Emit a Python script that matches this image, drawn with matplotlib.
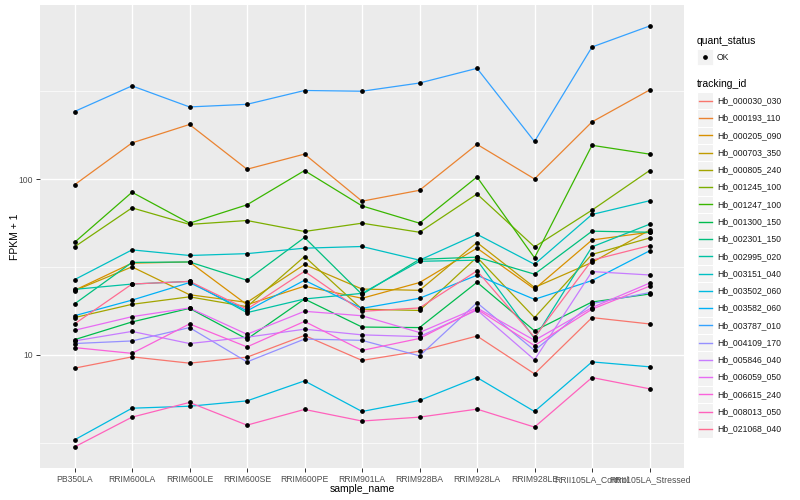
import numpy as np
import matplotlib.pyplot as plt
from matplotlib.lines import Line2D
from matplotlib.patches import Rectangle
from matplotlib.ticker import FixedLocator, NullFormatter

# =====================================================================
# Data (FPKM + 1)
# =====================================================================
sample_names = ["PB350LA", "RRIM600LA", "RRIM600LE", "RRIM600SE", "RRIM600PE",
                "RRIM901LA", "RRIM928BA", "RRIM928LA", "RRIM928LE",
                "RRII105LA_Control", "RRII105LA_Stressed"]

tracking_ids = ["Hb_000030_030", "Hb_000193_110", "Hb_000205_090", "Hb_000703_350",
                "Hb_000805_240", "Hb_001245_100", "Hb_001247_100", "Hb_001300_150",
                "Hb_002301_150", "Hb_002995_020", "Hb_003151_040", "Hb_003502_060",
                "Hb_003582_060", "Hb_003787_010", "Hb_004109_170", "Hb_005846_040",
                "Hb_006059_050", "Hb_006615_240", "Hb_008013_050", "Hb_021068_040"]

hb_000030_030 = [8.4, 9.74, 8.97, 9.7, 12.9, 9.3, 10.5, 12.8, 7.8, 16.3, 15.0]
hb_000193_110 = [92.9, 161, 205, 114, 139, 75, 86.5, 158, 100.4, 212, 322]
hb_000205_090 = [23.3, 33.3, 33.8, 19.3, 24.6, 21.0, 25.8, 40.5, 23.7, 45.1, 49.9]
hb_000703_350 = [23.2, 31.7, 22.0, 19.9, 32.7, 23.7, 23.3, 43.6, 24.2, 33.6, 51.3]
hb_000805_240 = [16.3, 19.4, 21.4, 18.8, 36.3, 18.2, 17.9, 36.0, 16.3, 37.3, 46.3]
hb_001245_100 = [41.2, 68.7, 55.3, 58.2, 50.4, 56.2, 49.9, 82.4, 41.2, 66.7, 112]
hb_001247_100 = [43.7, 84.3, 56.2, 71.5, 112, 70.5, 56.2, 103, 35.7, 156, 139]
hb_001300_150 = [12.2, 15.4, 18.4, 12.3, 20.8, 14.4, 14.3, 25.9, 13.7, 20.0, 22.2]
hb_002301_150 = [19.5, 33.6, 33.8, 26.6, 46.6, 22.1, 35.0, 36.0, 28.8, 50.6, 49.9]
hb_002995_020 = [23.6, 25.3, 26.2, 17.4, 20.8, 22.4, 34.1, 34.6, 12.4, 41.2, 55.4]
hb_003151_040 = [26.8, 39.6, 36.8, 37.7, 40.5, 41.4, 34.6, 48.6, 32.8, 63.0, 75.4]
hb_003502_060 = [3.28, 4.97, 5.1, 5.47, 7.11, 4.76, 5.5, 7.43, 4.76, 9.12, 8.55]
hb_003582_060 = [16.7, 20.5, 25.8, 17.8, 26.6, 18.4, 21.0, 28.4, 20.7, 26.5, 39.1]
hb_003787_010 = [243, 340, 258, 267, 320, 317, 353, 428, 164, 566, 745]
hb_004109_170 = [11.6, 12.0, 14.3, 9.12, 12.3, 12.1, 9.87, 19.8, 10.6, 19.6, 22.6]
hb_005846_040 = [12.0, 13.6, 11.6, 12.6, 14.0, 13.0, 12.7, 18.0, 9.37, 29.8, 28.5]
hb_006059_050 = [13.8, 16.5, 18.5, 13.1, 17.7, 16.7, 13.4, 18.5, 12.1, 18.6, 25.6]
hb_006615_240 = [11.0, 10.2, 15.0, 11.1, 15.5, 10.6, 12.4, 18.2, 11.3, 18.2, 24.6]
hb_008013_050 = [2.99, 4.42, 5.36, 3.98, 4.89, 4.2, 4.42, 4.91, 3.88, 7.43, 6.41]
hb_021068_040 = [15.0, 25.3, 26.2, 18.2, 29.9, 17.7, 18.5, 30.1, 12.6, 34.6, 41.9]

series = [hb_000030_030, hb_000193_110, hb_000205_090, hb_000703_350, hb_000805_240,
          hb_001245_100, hb_001247_100, hb_001300_150, hb_002301_150, hb_002995_020,
          hb_003151_040, hb_003502_060, hb_003582_060, hb_003787_010, hb_004109_170,
          hb_005846_040, hb_006059_050, hb_006615_240, hb_008013_050, hb_021068_040]

# ggplot2 default hue palette for 20 levels
colors = ["#F8766D", "#EA8331", "#D89000", "#C09B00", "#A3A500", "#7CAE00", "#39B600",
          "#00BB4E", "#00BF7D", "#00C1A3", "#00BFC4", "#00BAE0", "#00B0F6", "#35A2FF",
          "#9590FF", "#C77CFF", "#E76BF3", "#FA62DB", "#FF62BC", "#FF6C91"]

W, H = 800, 500
plt.rcParams['font.family'] = ['Liberation Sans', 'DejaVu Sans']

fig = plt.figure(figsize=(W / 100, H / 100), dpi=100)
fig.patch.set_facecolor("white")


def fx(px):
    return px / W


def fy(py):
    return 1 - py / H


# panel area in pixels: left 40, top 5, right 684, bottom 468
ax = fig.add_axes([fx(40), fy(468), fx(684) - fx(40), fy(5) - fy(468)])
ax.set_facecolor("#EBEBEB")
for sp in ax.spines.values():
    sp.set_visible(False)

x = np.arange(len(sample_names))
for vals, col in zip(series, colors):
    ax.plot(x, vals, color=col, lw=0.9, zorder=3)
for vals in series:
    ax.plot(x, vals, linestyle="none", marker="o", ms=2.4, color="black", zorder=4)

ax.set_yscale("log")
all_vals = np.log10(np.concatenate([np.array(s, dtype=float) for s in series]))
lo, hi = all_vals.min(), all_vals.max()
pad = 0.05 * (hi - lo)
ax.set_ylim(10 ** (lo - pad), 10 ** (hi + pad))
ax.set_xlim(-0.6, len(sample_names) - 1 + 0.6)

ax.yaxis.set_major_locator(FixedLocator([10, 100]))
ax.set_yticklabels(["10", "100"])
ax.yaxis.set_minor_locator(FixedLocator([10 ** 0.5, 10 ** 1.5, 10 ** 2.5]))
ax.yaxis.set_minor_formatter(NullFormatter())
ax.set_xticks(x)
ax.set_xticklabels(sample_names)

ax.grid(which="major", color="white", lw=1.0, zorder=0)
ax.grid(which="minor", axis="y", color="white", lw=0.5, zorder=0)
ax.set_axisbelow(True)
ax.tick_params(which="major", length=3, width=0.7, color="#333333",
               labelsize=6.2, labelcolor="#4D4D4D", pad=2)
ax.tick_params(which="minor", length=0)

ax.set_xlabel("sample_name", fontsize=7.5, labelpad=0)
ax.set_ylabel("FPKM + 1", fontsize=7.5, labelpad=-1)

# =====================================================================
# Legends (drawn by hand, ggplot style)
# =====================================================================
key_x0, key_w = 697, 16
text_x = 717

fig.text(fx(key_x0), fy(41), "quant_status", fontsize=7.5, va="center", ha="left")
fig.patches.append(Rectangle((fx(key_x0), fy(65)), fx(key_w), fy(49) - fy(65),
                             transform=fig.transFigure, facecolor="#F2F2F2",
                             edgecolor="white", lw=0.6))
fig.lines.append(Line2D([fx(key_x0 + key_w / 2)], [fy(57)], marker="o", ms=2.4,
                        color="black", transform=fig.transFigure))
fig.text(fx(text_x), fy(57), "OK", fontsize=6.2, va="center", ha="left", color="#1A1A1A")

fig.text(fx(key_x0), fy(84), "tracking_id", fontsize=7.5, va="center", ha="left")
step = 17.28
for i, (tid, col) in enumerate(zip(tracking_ids, colors)):
    cy = 100.7 + i * step
    fig.patches.append(Rectangle((fx(key_x0), fy(cy + step / 2)), fx(key_w),
                                 fy(cy - step / 2) - fy(cy + step / 2),
                                 transform=fig.transFigure, facecolor="#F2F2F2",
                                 edgecolor="white", lw=0.8))
    fig.lines.append(Line2D([fx(key_x0 + 1.5), fx(key_x0 + key_w - 1.5)], [fy(cy), fy(cy)],
                            color=col, lw=1.0, transform=fig.transFigure))
    fig.text(fx(text_x), fy(cy), tid, fontsize=6.2, va="center", ha="left", color="#1A1A1A")

fig.savefig("out.png", dpi=100)
